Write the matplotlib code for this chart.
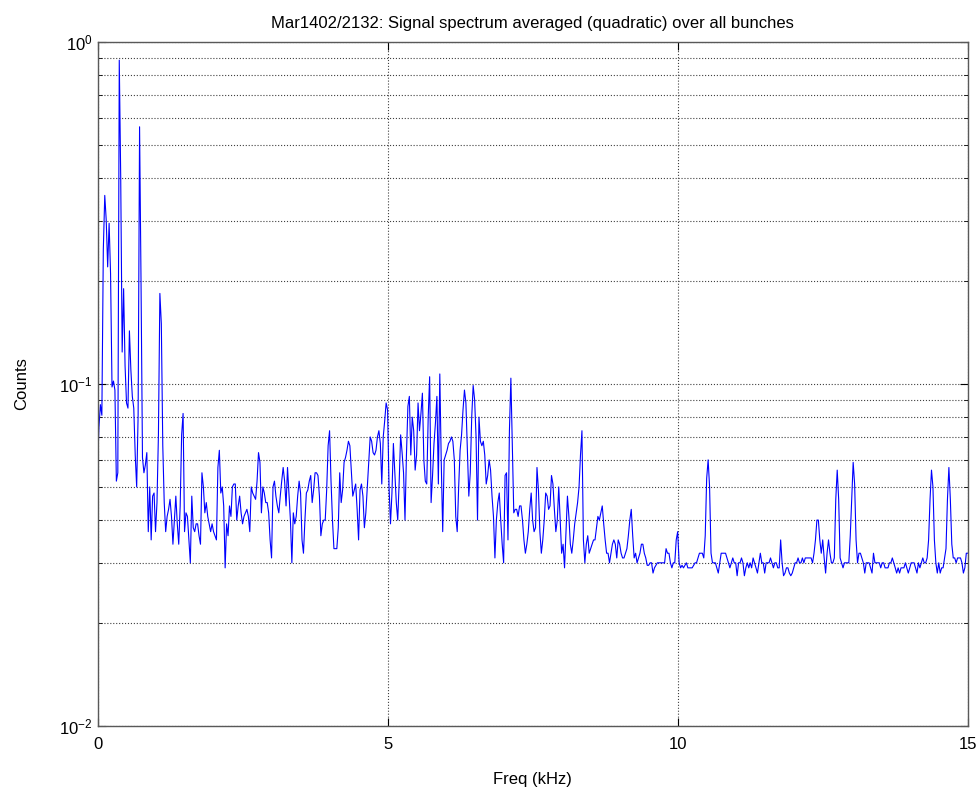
import numpy as np
import matplotlib
matplotlib.use("Agg")
import matplotlib.pyplot as plt
from matplotlib.ticker import LogLocator, FixedLocator

plt.rcParams['font.family'] = ['Liberation Sans', 'DejaVu Sans']
plt.rcParams['mathtext.default'] = 'regular'

# spectrum bins, 0.025 kHz apart, 0 .. 15 kHz
freq_step = 0.025

# 0 .. 1.475 kHz
counts_a = [
    0.057, 0.075, 0.087, 0.081, 0.247, 0.356, 0.302, 0.22, 0.295, 0.21,
    0.098, 0.102, 0.096, 0.052, 0.055, 0.885, 0.40, 0.124, 0.19, 0.113,
    0.088, 0.085, 0.143, 0.11, 0.092, 0.085, 0.062, 0.05, 0.081, 0.565,
    0.20, 0.061, 0.055, 0.058, 0.063, 0.037, 0.050, 0.035, 0.047, 0.048,
    0.037, 0.045, 0.071, 0.184, 0.15, 0.066, 0.045, 0.037, 0.041, 0.043,
    0.046, 0.041, 0.034, 0.040, 0.047, 0.039, 0.034, 0.044, 0.071, 0.082,
]
# 1.5 .. 4.4 kHz
counts_b = [
    0.037, 0.042, 0.041, 0.035, 0.030, 0.047, 0.038, 0.037, 0.039, 0.039,
    0.036, 0.034, 0.055, 0.050, 0.042, 0.045, 0.041, 0.039, 0.037, 0.039,
    0.037, 0.036, 0.035, 0.057, 0.064, 0.048, 0.050, 0.044, 0.029, 0.039,
    0.036, 0.044, 0.041, 0.050, 0.051, 0.051, 0.040, 0.044, 0.047, 0.042,
    0.039, 0.041, 0.042, 0.043, 0.041, 0.037, 0.050, 0.048, 0.047, 0.046,
    0.052, 0.063, 0.059, 0.042, 0.050, 0.048, 0.045, 0.045, 0.042, 0.035,
    0.031, 0.050, 0.052, 0.047, 0.044, 0.042, 0.047, 0.052, 0.057, 0.052,
    0.044, 0.057, 0.048, 0.040, 0.030, 0.042, 0.039, 0.041, 0.047, 0.052,
    0.048, 0.035, 0.032, 0.040, 0.048, 0.049, 0.052, 0.054, 0.045, 0.049,
    0.055, 0.055, 0.054, 0.047, 0.036, 0.039, 0.040, 0.040, 0.049, 0.066,
    0.073, 0.052, 0.040, 0.033, 0.033, 0.033, 0.038, 0.055, 0.045, 0.049,
    0.059, 0.061, 0.064, 0.068, 0.066, 0.056, 0.047,
]
# 4.425 .. 7.425 kHz
counts_c = [
    0.049, 0.051, 0.043, 0.035, 0.049, 0.051, 0.047, 0.038, 0.042, 0.050,
    0.060, 0.070, 0.068, 0.063, 0.062, 0.064, 0.070, 0.073, 0.067, 0.051,
    0.070, 0.078, 0.088, 0.084, 0.050, 0.039, 0.048, 0.067, 0.055, 0.045,
    0.040, 0.052, 0.071, 0.063, 0.055, 0.040, 0.062, 0.086, 0.092, 0.062,
    0.080, 0.073, 0.056, 0.062, 0.088, 0.073, 0.082, 0.094, 0.060, 0.052,
    0.051, 0.080, 0.105, 0.045, 0.054, 0.067, 0.077, 0.092, 0.051, 0.107,
    0.059, 0.037, 0.060, 0.062, 0.064, 0.067, 0.068, 0.070, 0.068, 0.060,
    0.041, 0.037, 0.050, 0.064, 0.071, 0.084, 0.096, 0.088, 0.065, 0.047,
    0.055, 0.080, 0.099, 0.090, 0.070, 0.040, 0.080, 0.068, 0.066, 0.068,
    0.062, 0.051, 0.054, 0.060, 0.056, 0.047, 0.041, 0.031, 0.040, 0.045,
    0.048, 0.040, 0.034, 0.030, 0.054, 0.055, 0.035, 0.073, 0.104, 0.067,
    0.042, 0.043, 0.043, 0.041, 0.044, 0.044, 0.040, 0.035, 0.032, 0.034,
    0.037,
]
# 7.45 .. 10.45 kHz
counts_d = [
    0.043, 0.048, 0.040, 0.037, 0.038, 0.057, 0.049, 0.037, 0.032, 0.035,
    0.040, 0.048, 0.047, 0.043, 0.044, 0.054, 0.051, 0.043, 0.037, 0.040,
    0.050, 0.040, 0.032, 0.034, 0.029, 0.037, 0.047, 0.041, 0.034, 0.032,
    0.035, 0.039, 0.042, 0.045, 0.050, 0.062, 0.073, 0.035, 0.030, 0.034,
    0.036, 0.032, 0.033, 0.034, 0.035, 0.035, 0.038, 0.041, 0.040, 0.042,
    0.044, 0.039, 0.035, 0.032, 0.032, 0.030, 0.032, 0.034, 0.035, 0.034,
    0.031, 0.035, 0.034, 0.032, 0.031, 0.031, 0.032, 0.033, 0.036, 0.040,
    0.043, 0.036, 0.031, 0.032, 0.030, 0.031, 0.032, 0.034, 0.034, 0.032,
    0.031, 0.0295, 0.0295, 0.030, 0.030, 0.028, 0.029, 0.0295, 0.030, 0.030,
    0.030, 0.030, 0.030, 0.030, 0.033, 0.032, 0.032, 0.030, 0.029, 0.030,
    0.030, 0.035, 0.037, 0.030, 0.029, 0.0295, 0.029, 0.0295, 0.030, 0.029,
    0.029, 0.029, 0.029, 0.0295, 0.030, 0.030, 0.031, 0.032, 0.032, 0.032,
    0.031,
]
# 10.475 .. 15 kHz
counts_e = [
    0.036, 0.053, 0.060, 0.050, 0.032, 0.030, 0.030, 0.030, 0.029, 0.028,
    0.030, 0.032, 0.032, 0.032, 0.032, 0.031, 0.030, 0.029, 0.030, 0.031,
    0.030, 0.030, 0.0275, 0.030, 0.030, 0.031, 0.030, 0.0275, 0.029, 0.030,
    0.029, 0.030, 0.029, 0.031, 0.030, 0.029, 0.028, 0.030, 0.032, 0.030,
    0.030, 0.028, 0.030, 0.030, 0.030, 0.031, 0.030, 0.029, 0.030, 0.030,
    0.029, 0.029, 0.035, 0.030, 0.0275, 0.028, 0.029, 0.029, 0.028, 0.0275,
    0.028, 0.029, 0.030, 0.030, 0.031, 0.030, 0.030, 0.031, 0.030, 0.031,
    0.031, 0.031, 0.031, 0.031, 0.030, 0.032, 0.035, 0.040, 0.040, 0.035,
    0.032, 0.035, 0.031, 0.028, 0.032, 0.035, 0.032, 0.030, 0.030, 0.031,
    0.046, 0.056, 0.046, 0.031, 0.030, 0.029, 0.030, 0.030, 0.030, 0.030,
    0.036, 0.046, 0.059, 0.051, 0.035, 0.030, 0.032, 0.032, 0.031, 0.030,
    0.028, 0.030, 0.030, 0.030, 0.029, 0.028, 0.032, 0.030, 0.030, 0.030,
    0.030, 0.029, 0.030, 0.030, 0.029, 0.029, 0.029, 0.030, 0.030, 0.031,
    0.030, 0.029, 0.028, 0.029, 0.028, 0.029, 0.029, 0.029, 0.030, 0.029,
    0.028, 0.029, 0.030, 0.030, 0.030, 0.029, 0.028, 0.030, 0.029, 0.030,
    0.031, 0.030, 0.030, 0.031, 0.035, 0.046, 0.056, 0.050, 0.035, 0.030,
    0.028, 0.030, 0.028, 0.029, 0.029, 0.031, 0.033, 0.046, 0.057, 0.046,
    0.034, 0.031, 0.031, 0.030, 0.031, 0.031, 0.031, 0.030, 0.028, 0.029,
    0.032, 0.032,
]

counts = np.array(counts_a + counts_b + counts_c + counts_d + counts_e)
freq = freq_step * np.arange(len(counts))

x_ticks = [0, 5, 10, 15]

fig = plt.figure(figsize=(9.8, 7.91), dpi=100)
ax = fig.add_axes([0.0995, 0.0822, 0.888, 0.8647])

ax.semilogy(freq, counts, color='#0000ff', linewidth=0.8)

ax.set_xlim(0, 15)
ax.set_ylim(1e-2, 1e0)
ax.xaxis.set_major_locator(FixedLocator(x_ticks))
ax.yaxis.set_major_locator(LogLocator(base=10))
ax.yaxis.set_minor_locator(LogLocator(base=10, subs=np.arange(2, 10)))

# matlab look: ticks inside on all four sides, dotted grid
ax.tick_params(which='both', direction='in', top=True, right=True, labelsize=12)
ax.tick_params(which='major', length=6)
ax.tick_params(which='minor', length=3)
ax.tick_params(axis='x', pad=8)
ax.grid(True, which='major', linestyle=':', color='0.25', linewidth=0.8)
ax.grid(True, which='minor', axis='y', linestyle=':', color='0.25', linewidth=0.8)
for s in ax.spines.values():
    s.set_linewidth(1.0)
    s.set_color('0.35')

ax.set_title("Mar1402/2132: Signal spectrum averaged (quadratic) over all bunches",
             fontsize=12, pad=10)
ax.set_xlabel("Freq (kHz)", fontsize=12, labelpad=14)
ax.set_ylabel("Counts", fontsize=12, labelpad=22)

fig.savefig("out.png", dpi=100)
